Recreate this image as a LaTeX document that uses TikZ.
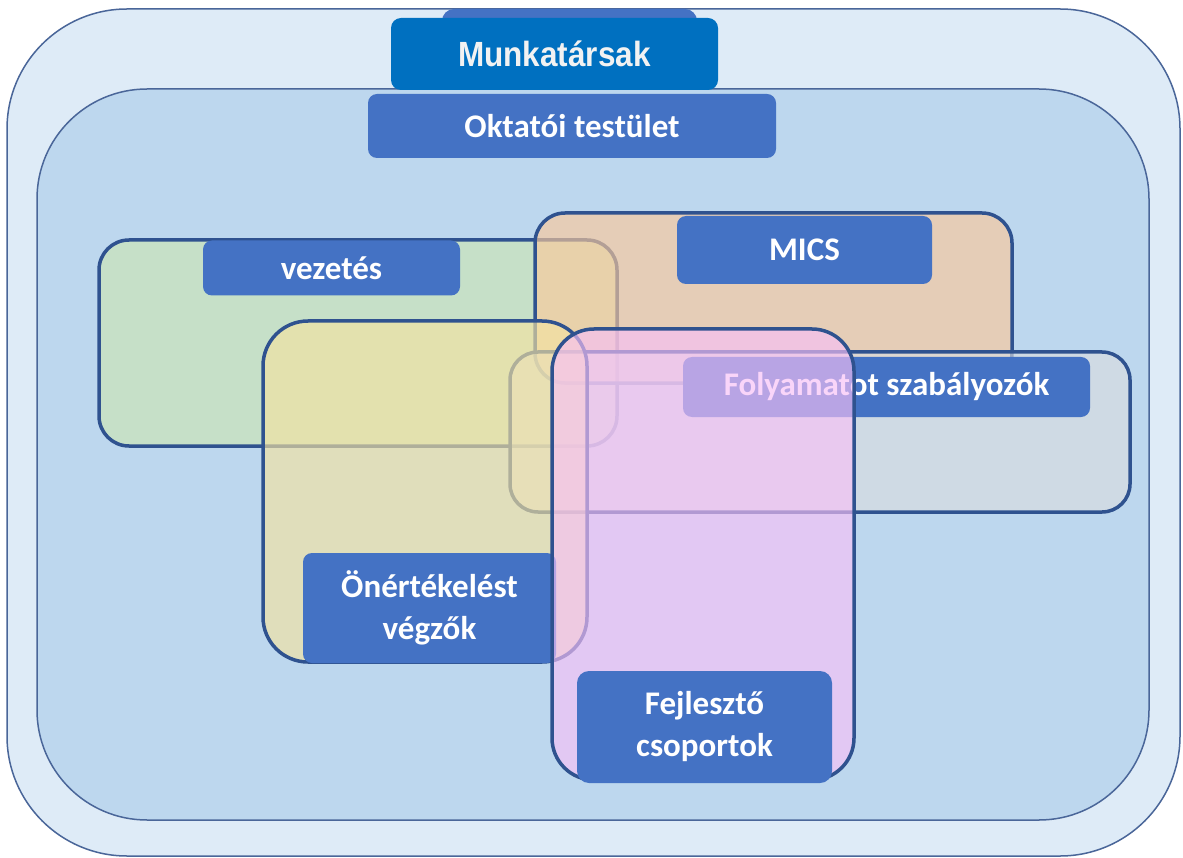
\documentclass[tikz,border=0pt]{standalone}
\usepackage{fontspec}
\setmainfont{Carlito}
\newfontfamily\munkfont[FakeStretch=0.9]{Liberation Sans}
\usetikzlibrary{fit}
\definecolor{outerfill}{HTML}{DEEBF7}
\definecolor{innerfill}{HTML}{BDD7EE}
\definecolor{framec}{HTML}{4A6699}
\definecolor{regionc}{HTML}{2F528F}
\definecolor{labc}{HTML}{4472C4}
\definecolor{munkc}{HTML}{0070C0}
\definecolor{vezc}{HTML}{CBE5B4}
\definecolor{micsc}{HTML}{FBC99A}
\definecolor{folyc}{HTML}{DADDE0}
\definecolor{onc}{HTML}{F4E2A1}
\definecolor{fejc}{HTML}{F7C0F6}
\begin{document}
\begin{tikzpicture}[x=1pt,y=-1pt,
  frame/.style={draw=framec, line width=1.5pt, inner sep=0pt, outer sep=0pt},
  region/.style={draw=regionc, line width=3.5pt, fill opacity=0.65, rounded corners=30pt, inner sep=0pt, outer sep=0pt},
  lab/.style={fill=labc, rounded corners=9pt, inner sep=0pt, outer sep=0pt, text=white, align=center,
    font=\bfseries\fontsize{33}{42}\selectfont},
  tabbox/.style={fill=labc, rounded corners=12pt, inner sep=0pt, outer sep=0pt},
  munkbox/.style={fill=munkc, rounded corners=10pt, inner sep=0pt, outer sep=0pt, text=white!95!black,
    font=\munkfont\bfseries\fontsize{35}{40}\selectfont}]
\fill[white] (0,0) rectangle (1183,858);
\useasboundingbox (0,0) rectangle (1183,858);
\node[frame, fill=outerfill, rounded corners=120pt, fit={(7,9) (1180,856)}] (outer) {};
\node[tabbox, fit={(442,9) (697,60)}] (tab) {};
\node[frame, fill=innerfill, rounded corners=110pt, fit={(37,89) (1149,820)}] (inner) {};
\node[lab, minimum width=408pt, minimum height=64pt] (okt) at (572,126) {Oktatói testület};
\node[region, fill=vezc, fit={(99,240) (617,446)}] (vezR) {};
\node[lab, minimum width=257pt, minimum height=55pt] (vezL) at (331.5,268) {vezetés};
\node[region, fill=micsc, fit={(535,213) (1012,383)}] (micsR) {};
\node[lab, minimum width=255pt, minimum height=68pt] (micsL) at (804.5,250) {MICS};
\node[region, fill=folyc, rounded corners=28pt, fit={(510,352) (1130,512)}] (folyR) {};
\node[lab, minimum width=407pt, minimum height=60pt] (folyL) at (886.5,387) {Folyamatot szabályozók};
\node[region, fill=onc, rounded corners=45pt, fit={(263,321) (587,662)}] (onR) {};
\node[lab, minimum width=253pt, minimum height=110pt] (onL) at (429.5,608) {Önértékelést\\végzők};
\node[region, fill=fejc, rounded corners=42pt, fit={(552,329) (854,780)}] (fejR) {};
\node[lab, rounded corners=12pt, minimum width=255pt, minimum height=112pt] (fejL) at (704.5,727) {Fejlesztő\\csoportok};
\node[munkbox, minimum width=327pt, minimum height=72pt] (munk) at (554.5,54) {\raisebox{-6pt}{Munkatársak}};
\end{tikzpicture}
\end{document}
